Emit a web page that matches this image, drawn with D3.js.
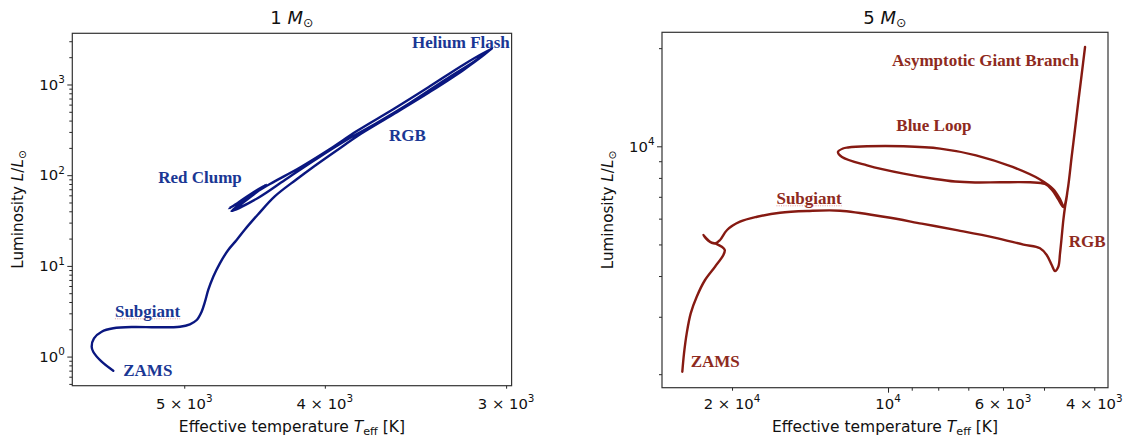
<!DOCTYPE html>
<html><head><meta charset="utf-8">
<script src="https://cdn.jsdelivr.net/npm/d3@7"></script>
<style>
body{margin:0;background:#fff;}
svg{display:block;}
</style></head><body>
<svg id="chart" width="1124" height="443"></svg>
<script>
// ---------- data ----------
// 1 Msun track: effective temperature [K] and luminosity [Lsun]
const lowTeff = [5596,5700,5777,5791,5770,5700,5596,5423,5224,5034,4955,4902,4864,4838,4813,4775,4725,4663,4601,4541,4448,4331,4187,4070,3890,3802,3592,3395,3208,3069,
  3208,3396,3591,3802,3968,4161,4364,4541,4658,
  4420,4628,4392,4606,4405,4640,
  4448,4262,4064,3875,3694,3495,3306,3152,3069];
const lowLum = [0.699,0.879,1.132,1.286,1.591,1.882,2.051,2.120,2.104,2.136,2.271,2.533,3.126,4.030,5.424,7.60,10.68,14.97,19.30,25.2,36.87,58.38,89.2,125.0,207.7,267.8,464.5,806,1456,2490,
  1662,926,530,307,194.5,121.6,80.0,54.6,42.9,
  72.3,45.8,79.0,43.5,75.0,40.3,
  56.1,88.5,147.1,238.3,366.8,625,1121,1816,2490];

// 5 Msun track
const highTeff = [24943,24755,24460,24029,23396,22548,21568,20784,20655,20932,21405,22052,22719,22249,21568,21091,20445,19302,17893,16159,14329,12380,10116,8609,7328,6232,5479,5090,4941,4832,4762,4693,4657,4622,4589,4554,4508,
  4585,4697,4825,4978,5320,6078,6794,7425,8114,9331,10977,12271,12491,12217,11946,10977,9331,7936,6764,5750,5090,4803,4657,4574,
  4502,4423,4359,4290,4231,4167];
const highLum = [2035,2317,2669,3074,3457,3890,4273,4641,4808,4920,5015,5098,5344,5140,5032,5159,5537,5871,6081,6256,6331,6346,6068,5792,5524,5248,4995,4866,4641,4324,4145,4273,4697,5282,5941,6526,7190,
  6512,6890,7345,7663,7755,7755,7745,7798,7938,8246,8745,9272,9605,9846,9915,10000,10000,9838,9384,8641,7911,7396,6890,6512,
  7345,9272,11220,13868,16548,20165];

// annotations (data coordinates)
const lowNames = ["ZAMS","Subgiant","Red Clump","RGB","Helium Flash"];
const lowNameT = [5508,5581,5211,3613,3483];
const lowNameL = [0.611,2.733,82.0,240,2526];
const highNames = ["ZAMS","Subgiant","Blue Loop","Asymptotic Giant Branch","RGB"];
const highNameT = [24029,16419,9638,9824,4478];
const highNameL = [2108,6653,11142,17635,4911];

// ticks
const lowXLabeled = [5000,4000,3000];
const lowYMajor = [1,10,100,1000];
const lowYMinor = [0.5,0.6,0.7,0.8,0.9,2,3,4,5,6,7,8,9,20,30,40,50,60,70,80,90,200,300,400,500,600,700,800,900,2000,3000];
const highXMajor = [10000];
const highXMinor = [20000,9000,8000,7000,6000,5000,4000];
const highXLabeled = [20000,10000,6000,4000];
const highYMajor = [10000];
const highYMinor = [2000,3000,4000,5000,6000,7000,8000,9000,20000];
const panelMass = ["1","5"];

// ---------- drawing ----------
const svg = d3.select("#chart");
const SANS = "DejaVu Sans, sans-serif";
const SERIF = "Liberation Serif, Times New Roman, serif";

const panels = [
  {mass: panelMass[0], l:72.3, r:511.6, t:33.3, b:385.7, xDom:[5972,2974], yDom:[0.4776,3668],
   T: lowTeff, L: lowLum, names: lowNames, nT: lowNameT, nL: lowNameL,
   xMajor: [], xMinor: lowXLabeled, xLab: lowXLabeled, yMajor: lowYMajor, yMinor: lowYMinor, yLab: lowYMajor,
   line: "#0a1780", text: "#1a3794", ylabX: 22.5},
  {mass: panelMass[1], l:662, r:1108, t:32.3, b:387.7, xDom:[27299,3763], yDom:[1818,22371],
   T: highTeff, L: highLum, names: highNames, nT: highNameT, nL: highNameL,
   xMajor: highXMajor, xMinor: highXMinor, xLab: highXLabeled, yMajor: highYMajor, yMinor: highYMinor, yLab: highYMajor,
   line: "#861a12", text: "#8e2a20", ylabX: 612.5}
];

function powParts(v){
  const e = Math.floor(Math.log10(v) + 1e-9);
  const m = Math.round(v / Math.pow(10, e));
  return {m, e};
}
function writePow(sel, v){
  const p = powParts(v);
  sel.append("tspan").text(p.m === 1 ? "10" : p.m + " \u00d7 10");
  sel.append("tspan").attr("dy", -6.6).attr("font-size", 10.4).text(p.e);
}

panels.forEach(P => {
  const g = svg.append("g");
  const x = d3.scaleLog().domain(P.xDom).range([P.l, P.r]);
  const y = d3.scaleLog().domain(P.yDom).range([P.b, P.t]);

  const addAxis = (gen, vals, size, tr) => {
    if (!vals.length) return;
    g.append("g").attr("transform", tr).attr("color", "#262626")
      .call(gen.tickValues(vals).tickSize(size).tickSizeOuter(0).tickFormat(() => ""))
      .call(s => s.select(".domain").remove());
  };
  addAxis(d3.axisBottom(x), P.xMinor, 3, `translate(0,${P.b})`);
  addAxis(d3.axisBottom(x), P.xMajor, 5, `translate(0,${P.b})`);
  addAxis(d3.axisLeft(y), P.yMinor, 3, `translate(${P.l},0)`);
  addAxis(d3.axisLeft(y), P.yMajor, 5, `translate(${P.l},0)`);

  // tick labels
  g.append("g").selectAll("text").data(P.xLab).join("text")
    .attr("x", d => x(d)).attr("y", 408.5).attr("text-anchor", "middle")
    .attr("font-family", SANS).attr("font-size", 14.8).attr("fill", "#111")
    .each(function(d){ writePow(d3.select(this), d); });
  g.append("g").selectAll("text").data(P.yLab).join("text")
    .attr("x", P.l - 7.5).attr("y", d => y(d) + 5.3).attr("text-anchor", "end")
    .attr("font-family", SANS).attr("font-size", 14.8).attr("fill", "#111")
    .each(function(d){ writePow(d3.select(this), d); });

  // track
  g.append("path").datum(d3.zip(P.T, P.L))
    .attr("fill", "none").attr("stroke", P.line).attr("stroke-width", 2.4)
    .attr("stroke-linejoin", "round").attr("stroke-linecap", "round")
    .attr("d", d3.line().x(d => x(d[0])).y(d => y(d[1])).curve(d3.curveCatmullRom.alpha(0.5)));

  // frame
  g.append("rect").attr("x", P.l).attr("y", P.t).attr("width", P.r - P.l).attr("height", P.b - P.t)
    .attr("fill", "none").attr("stroke", "#333").attr("stroke-width", 1.2);

  // annotations
  P.names.forEach((nm, i) => {
    const t = g.append("text").attr("x", x(P.nT[i])).attr("y", y(P.nL[i]))
      .attr("font-family", SERIF).attr("font-weight", "bold").attr("font-size", 17)
      .attr("fill", P.text).text(nm);
    if (nm === "Subgiant") {
      const len = t.node().getComputedTextLength();
      g.append("line").attr("x1", x(P.nT[i])).attr("x2", x(P.nT[i]) + len)
        .attr("y1", y(P.nL[i]) + 1.8).attr("y2", y(P.nL[i]) + 1.8)
        .attr("stroke", "#e07a7a").attr("stroke-width", 0.9).attr("stroke-dasharray", "1,1.3").attr("opacity", 0.8);
    }
  });

  const cx = (P.l + P.r) / 2, cy = (P.t + P.b) / 2;
  // title
  const ti = g.append("text").attr("x", cx).attr("y", 23.6).attr("text-anchor", "middle")
    .attr("font-family", SANS).attr("font-size", 18).attr("fill", "#111");
  ti.append("tspan").text(P.mass + " ");
  ti.append("tspan").attr("font-style", "italic").text("M");
  ti.append("tspan").attr("font-size", 12.6).attr("dy", 3.2).text("\u2299");

  // x label
  const xl = g.append("text").attr("x", cx).attr("y", 432).attr("text-anchor", "middle")
    .attr("font-family", SANS).attr("font-size", 15.5).attr("fill", "#111");
  xl.append("tspan").text("Effective temperature ");
  xl.append("tspan").attr("font-style", "italic").text("T");
  xl.append("tspan").attr("font-size", 11.2).attr("dy", 3).text("eff");
  xl.append("tspan").attr("dy", -3).text(" [K]");

  // y label
  const yl = g.append("text").attr("transform", `translate(${P.ylabX},${cy}) rotate(-90)`)
    .attr("text-anchor", "middle").attr("font-family", SANS).attr("font-size", 15.2).attr("fill", "#111");
  yl.append("tspan").text("Luminosity ");
  yl.append("tspan").attr("font-style", "italic").text("L");
  yl.append("tspan").text("/");
  yl.append("tspan").attr("font-style", "italic").text("L");
  yl.append("tspan").attr("font-size", 10.6).attr("dy", 3).text("\u2299");
});
</script>
</body></html>
